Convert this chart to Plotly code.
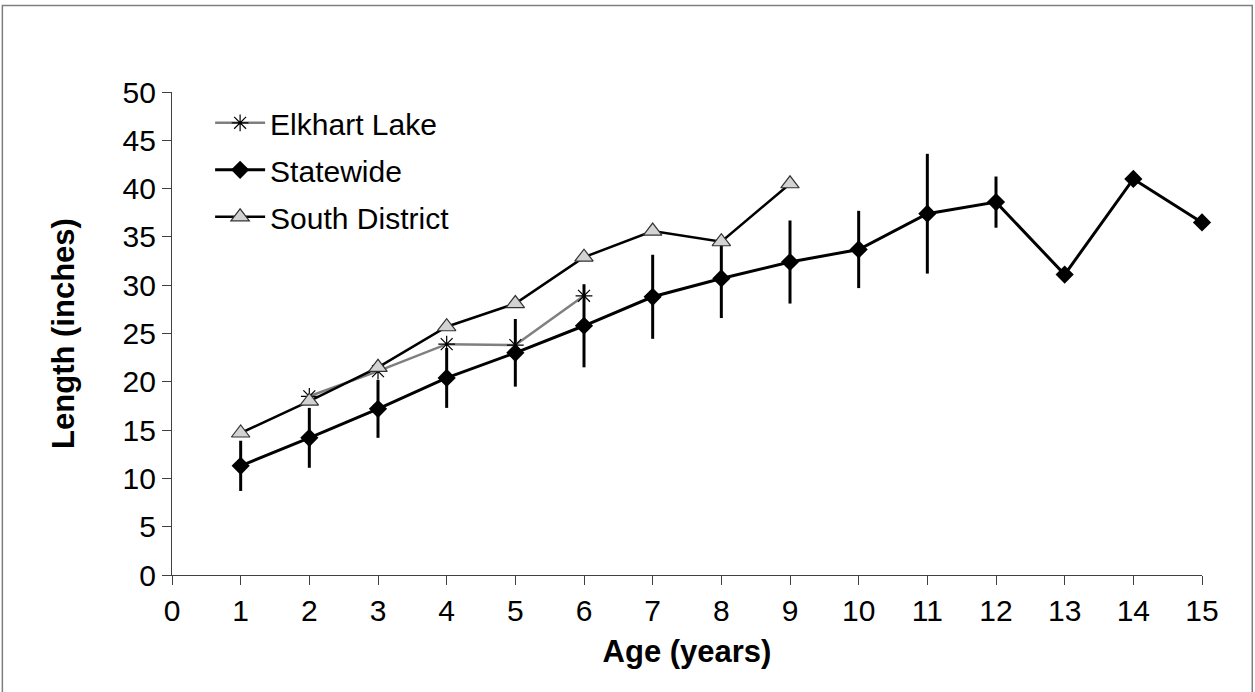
import plotly.graph_objects as go

# Mean length at age (inches)
ages = list(range(1, 16))
statewide = [11.3, 14.2, 17.2, 20.4, 23.0, 25.8, 28.8, 30.7, 32.4, 33.7, 37.4, 38.6, 31.1, 41.0, 36.5]
statewide_sd = [2.6, 3.1, 3.0, 3.1, 3.5, 4.3, 4.35, 4.1, 4.3, 4.0, 6.2, 2.65, 0, 0, 0]

south_ages = list(range(1, 10))
south_district = [14.7, 18.0, 21.5, 25.7, 28.1, 32.9, 35.6, 34.5, 40.5]

elkhart_ages = list(range(2, 7))
elkhart_lake = [18.5, 21.1, 23.9, 23.8, 28.9]

x_ticks = list(range(0, 16))
y_ticks = list(range(0, 51, 5))

FONT = "Liberation Sans, Arial, sans-serif"
FS = 30

fig = go.Figure()

fig.add_trace(go.Scatter(
    x=ages, y=statewide, name="Statewide", mode="lines+markers",
    line=dict(color="black", width=3),
    marker=dict(symbol="diamond", size=14, color="black"),
    error_y=dict(type="data", array=statewide_sd, visible=True,
                 color="black", thickness=3, width=0),
    legendrank=2, legendgroup="b", cliponaxis=False,
))

fig.add_trace(go.Scatter(
    x=elkhart_ages, y=elkhart_lake, name="Elkhart Lake", mode="lines+markers",
    line=dict(color="#7f7f7f", width=2.5),
    marker=dict(symbol="asterisk-open", size=14, color="black",
                line=dict(color="black", width=1.2)),
    legendrank=1, legendgroup="a", cliponaxis=False,
))

fig.add_trace(go.Scatter(
    x=south_ages, y=south_district, name="South District", mode="lines+markers",
    line=dict(color="black", width=2.5),
    marker=dict(symbol="triangle-up", size=16, color="#d3d3d3",
                line=dict(color="#333333", width=1.2)),
    legendrank=3, legendgroup="c", cliponaxis=False,
))

fig.update_layout(
    width=1255, height=692,
    margin=dict(l=172, r=53, t=92, b=117),
    paper_bgcolor="white", plot_bgcolor="white",
    font=dict(family=FONT, size=FS, color="black"),
    showlegend=True,
    legend=dict(x=0.037, y=0.99, xanchor="left", yanchor="top",
                bgcolor="rgba(0,0,0,0)", font=dict(size=FS),
                traceorder="grouped", tracegroupgap=5, itemwidth=50),
    xaxis=dict(range=[0, 15], tickvals=x_ticks, showgrid=False, zeroline=False,
               showline=True, linecolor="#404040", linewidth=1.2,
               ticks="outside", ticklen=9, tickcolor="#404040", tickwidth=1.2,
               tickfont=dict(size=FS),
               title=dict(text="<b>Age (years)</b>", font=dict(size=31), standoff=14)),
    yaxis=dict(range=[0, 50], tickvals=y_ticks, showgrid=False, zeroline=False,
               showline=True, linecolor="#404040", linewidth=1.2,
               ticks="outside", ticklen=9, tickcolor="#404040", tickwidth=1.2,
               tickfont=dict(size=FS),
               title=dict(text="<b>Length (inches)</b>", font=dict(size=31), standoff=38)),
    shapes=[dict(type="rect", xref="paper", yref="paper",
                 x0=-0.1647, x1=1.0488, y0=-0.26, y1=1.179,
                 line=dict(color="#7f7f7f", width=1.5), layer="below")],
)

fig.write_html("out.html")
